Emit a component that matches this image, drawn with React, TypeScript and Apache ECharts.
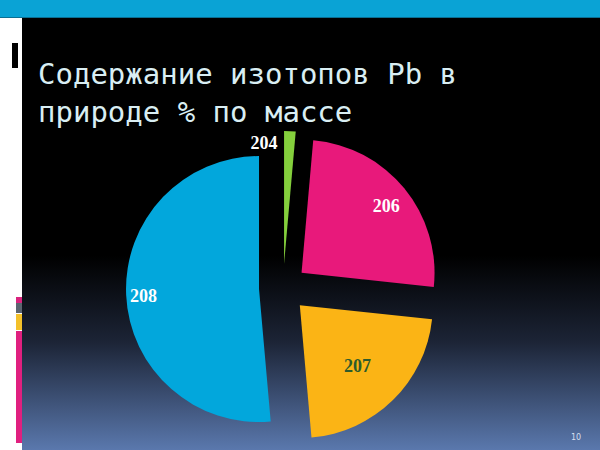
import React, { useEffect, useRef } from "react";
import * as echarts from "echarts";

const isotopes = ["204", "206", "207", "208"];
const abundance = [1.4, 25.3, 21.9, 51.4];
const sliceColors = ["#84cf3c", "#e8197b", "#fbb415", "#02a7dc"];
const labelColors = ["#ffffff", "#ffffff", "#2d5b2b", "#ffffff"];
const labelShiftX = [-23, 31, 9, -46];
const labelShiftY = [-52, -23, 11, 4];
const titleText = "Содержание изотопов Pb в\nприроде % по массе";
const pageNumber = "10";

export default function App() {
  const ref = useRef<HTMLDivElement>(null);
  useEffect(() => {
    document.body.style.margin = "0";
    const chart = echarts.init(ref.current!, null, { renderer: "svg" });
    chart.setOption({
      animation: false,
      title: {
        text: titleText,
        left: 38,
        top: 55,
        padding: 0,
        textStyle: {
          fontFamily: "DejaVu Sans Mono",
          fontSize: 29,
          lineHeight: 38,
          fontWeight: "normal",
          color: "#d9eef3",
        },
        z: 5,
      },
      graphic: [
        { type: "rect", z: 0, shape: { x: 0, y: 0, width: 600, height: 18 }, style: { fill: "#0aa3d5" } },
        { type: "rect", z: 0, shape: { x: 0, y: 17, width: 600, height: 1 }, style: { fill: "#0b6f93" } },
        {
          type: "rect",
          z: 0,
          shape: { x: 22, y: 18, width: 578, height: 432 },
          style: {
            fill: new echarts.graphic.LinearGradient(0, 0, 0, 1, [
              { offset: 0, color: "#000000" },
              { offset: 0.55, color: "#000000" },
              { offset: 0.75, color: "#1c2436" },
              { offset: 1, color: "#5a78ad" },
            ]),
          },
        },
        { type: "rect", z: 0, shape: { x: 12, y: 43, width: 6, height: 25 }, style: { fill: "#000000" } },
        { type: "rect", z: 0, shape: { x: 16, y: 297, width: 6, height: 6 }, style: { fill: "#d9237e" } },
        { type: "rect", z: 0, shape: { x: 16, y: 303, width: 6, height: 10 }, style: { fill: "#5b6470" } },
        { type: "rect", z: 0, shape: { x: 16, y: 314, width: 6, height: 16 }, style: { fill: "#f3c02a" } },
        { type: "rect", z: 0, shape: { x: 16, y: 331, width: 6, height: 112 }, style: { fill: "#e0207f" } },
        {
          type: "text",
          z: 1,
          x: 571,
          y: 433,
          style: { text: pageNumber, fill: "#d6dff0", fontSize: 8, fontFamily: "DejaVu Sans" },
        },
      ],
      series: [
        {
          type: "pie",
          center: [283, 288],
          radius: 133,
          startAngle: 90,
          clockwise: true,
          selectedMode: "multiple",
          selectedOffset: 24,
          emphasis: { disabled: true },
          label: {
            show: true,
            position: "inside",
            formatter: "{b}",
            fontFamily: "Liberation Serif",
            fontWeight: "bold",
            fontSize: 18,
          },
          labelLine: { show: false },
          labelLayout: (params: any) => ({
            dx: labelShiftX[params.dataIndex],
            dy: labelShiftY[params.dataIndex],
          }),
          data: isotopes.map((name, i) => ({
            name,
            value: abundance[i],
            selected: true,
            itemStyle: { color: sliceColors[i] },
            label: { color: labelColors[i] },
          })),
        },
      ],
    });
    return () => chart.dispose();
  }, []);
  return <div ref={ref} style={{ width: 600, height: 450 }} />;
}
